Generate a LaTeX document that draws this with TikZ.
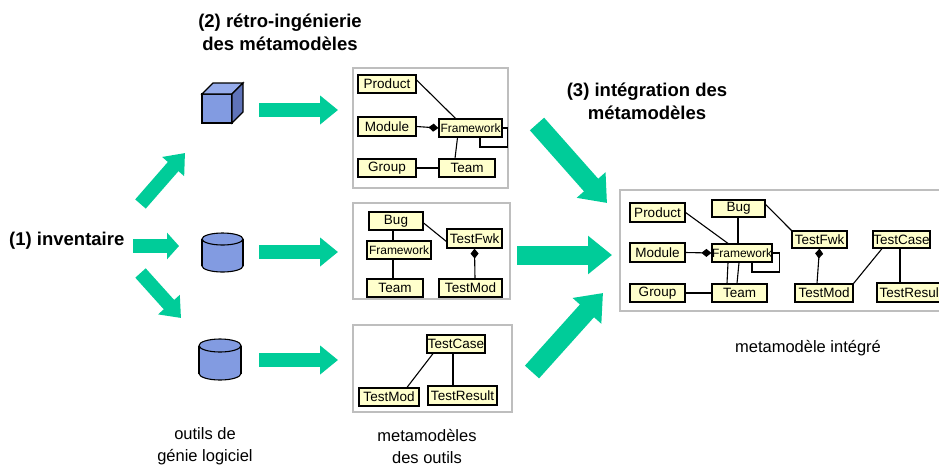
\documentclass[tikz,border=0pt]{standalone}
\usepackage{fontspec}
\setmainfont{Liberation Sans}
\usetikzlibrary{arrows.meta}
\definecolor{grn}{RGB}{0,204,153}
\definecolor{clsfill}{RGB}{255,255,204}
\definecolor{boxgray}{RGB}{190,190,190}
\definecolor{dbfront}{RGB}{130,155,225}
\definecolor{dbtop}{RGB}{150,172,235}
\definecolor{dbside}{RGB}{95,115,185}
\tikzset{
  cls/.style={draw=black, fill=clsfill, line width=1.2pt, inner sep=0pt,
    font=\fontsize{13.5}{15}\selectfont},
  fw/.style={font=\fontsize{12}{13}\selectfont},
  container/.style={draw=boxgray, fill=white, line width=1.5pt, inner sep=0pt},
  conn/.style={draw=black, line width=1.1pt},
  agg/.style={conn, -{Diamond[length=10pt,width=8pt]}},
  garrow/.style={draw=grn, line width=14pt, -{Triangle[width=28pt,length=18pt]}},
  garrowshort/.style={draw=grn, line width=14pt, -{Triangle[width=26pt,length=12pt]}},
  bigarrow/.style={draw=grn, line width=19pt, -{Triangle[width=37pt,length=24pt]}},
  lbl/.style={font=\fontsize{16.5}{22}\selectfont, align=center, inner sep=0pt},
  blbl/.style={font=\bfseries\fontsize{18.5}{22.5}\selectfont, align=center, inner sep=0pt},
  db/.style={draw=black, line width=1.1pt, fill=dbfront},
}
\begin{document}
\begin{tikzpicture}[x=1pt,y=-1pt]
\clip (0,0) rectangle (939,467);
\fill[white] (0,0) rectangle (939,467);

% titles and labels
\node[blbl] (t2) at (280,32.5) {(2) rétro-ingénierie\\des métamodèles};
\node[blbl] (t3) at (647,101.5) {(3) intégration des\\métamodèles};
\node[blbl, anchor=west] (t1) at (9,241) {(1) inventaire};
\node[lbl] (lo) at (205,446) {outils de\\génie logiciel};
\node[lbl] (lm) at (427,446) {metamodèles\\des outils};
\node[lbl] (li) at (808,348) {metamodèle intégré};

% tools: cube
\node[inner sep=0pt, minimum width=41pt, minimum height=40pt] (cube) at (222.5,103) {};
\filldraw[db] (202,94) rectangle (232,123);
\filldraw[db, fill=dbtop] (202,94) -- (213,83) -- (243,83) -- (232,94) -- cycle;
\filldraw[db, fill=dbside] (232,94) -- (243,83) -- (243,112) -- (232,123) -- cycle;

% cylinder 1
\node[inner sep=0pt, minimum width=41pt, minimum height=39pt] (cyl1) at (222.5,252.5) {};
\filldraw[db] (222.5,266) ellipse[x radius=20.5, y radius=6];
\fill[dbfront] (202,239) rectangle (243,266);
\draw[line width=1.1pt] (202,239) -- (202,266) (243,239) -- (243,266);
\filldraw[db] (222.5,239) ellipse[x radius=20.5, y radius=6];

% cylinder 2
\node[inner sep=0pt, minimum width=42pt, minimum height=41pt] (cyl2) at (220,359.5) {};
\filldraw[db] (220,373.5) ellipse[x radius=21, y radius=6.5];
\fill[dbfront] (199,345.5) rectangle (241,373.5);
\draw[line width=1.1pt] (199,345.5) -- (199,373.5) (241,345.5) -- (241,373.5);
\filldraw[db] (220,345.5) ellipse[x radius=21, y radius=6.5];

% arrow end points
\coordinate (a1s) at (140.5,204);
\coordinate (a1e) at (185,153);
\coordinate (a2s) at (133,246);
\coordinate (a2e) at (179,246);
\coordinate (a3s) at (140.5,273);
\coordinate (a3e) at (181,318);
\coordinate (r1s) at (259,110);
\coordinate (r1e) at (338,110);
\coordinate (r2s) at (259,252);
\coordinate (r2e) at (338,252);
\coordinate (r3s) at (259,360);
\coordinate (r3e) at (338,360);
\coordinate (b1s) at (537,124);
\coordinate (b1e) at (607,203);
\coordinate (b2s) at (517,255);
\coordinate (b2e) at (612,255);
\coordinate (b3s) at (532,372);
\coordinate (b3e) at (603,293);

\draw[garrow] (a1s) -- (a1e);
\draw[garrowshort] (a2s) -- (a2e);
\draw[garrow] (a3s) -- (a3e);
\draw[garrow] (r1s) -- (r1e);
\draw[garrow] (r2s) -- (r2e);
\draw[garrow] (r3s) -- (r3e);
\draw[bigarrow] (b1s) -- (b1e);
\draw[bigarrow] (b2s) -- (b2e);
\draw[bigarrow] (b3s) -- (b3e);

% containers
\node[container, minimum width=155pt, minimum height=120pt] (mm1) at (430.5,128) {};
\node[container, minimum width=157pt, minimum height=96pt] (mm2) at (431.5,251) {};
\node[container, minimum width=159pt, minimum height=87pt] (mm3) at (432.5,368.5) {};
\node[container, minimum width=340pt, minimum height=121pt] (mmi) at (790,250.5) {};

% metamodel 1
\node[cls, minimum width=58pt, minimum height=18pt] (p1) at (387,84) {Product};
\node[cls, minimum width=58pt, minimum height=19pt] (m1) at (387,126.5) {Module};
\node[cls, fw, minimum width=63pt, minimum height=18pt] (f1) at (470.5,128) {Framework};
\node[cls, minimum width=58pt, minimum height=18pt] (g1) at (387,168) {Group};
\node[cls, minimum width=56pt, minimum height=18pt] (t1b) at (467,168) {Team};
\draw[conn] ([yshift=4]p1.east) -- ([xshift=-15]f1.north);
\draw[agg] (m1.east) -- (f1.west);
\draw[conn] ([xshift=-13]f1.south) -- ([xshift=-12]t1b.north);
\draw[conn] (g1.east) -- (t1b.west);
\draw[conn] (f1.east) -| ++(5,19) -| ([xshift=9.5]f1.south);

% metamodel 2
\node[cls, minimum width=54pt, minimum height=18pt] (b2) at (396,221) {Bug};
\node[cls, fw, minimum width=64pt, minimum height=18pt] (f2) at (399,250) {Framework};
\node[cls, minimum width=56pt, minimum height=18pt] (t2b) at (395,288) {Team};
\node[cls, minimum width=55pt, minimum height=19pt] (tf2) at (474.5,238.5) {TestFwk};
\node[cls, minimum width=63pt, minimum height=18pt] (tm2) at (470.5,288) {TestMod};
\draw[conn] ([yshift=-2]b2.east) -- ([yshift=-3]tf2.west);
\draw[conn] ([xshift=-3]b2.south) -- ([xshift=-6]f2.north);
\draw[conn] ([xshift=-6]f2.south) -- ([xshift=-2]t2b.north);
\draw[agg] ([xshift=4.5]tm2.north) -- (tf2.south);

% metamodel 3
\node[cls, minimum width=58pt, minimum height=18pt] (tc3) at (456,344) {TestCase};
\node[cls, minimum width=60pt, minimum height=18pt] (tm3) at (389,397) {TestMod};
\node[cls, minimum width=69pt, minimum height=19pt] (tr3) at (462.5,395.5) {TestResult};
\draw[conn] ([xshift=-23]tc3.south) -- ([xshift=18]tm3.north);
\draw[conn] ([xshift=-3]tc3.south) -- ([xshift=-9.5]tr3.north);

% integrated metamodel
\node[cls, minimum width=55pt, minimum height=19pt] (pB) at (657.5,212.5) {Product};
\node[cls, minimum width=53pt, minimum height=17pt] (bB) at (738.5,208.5) {Bug};
\node[cls, minimum width=55pt, minimum height=19pt] (mB) at (657.5,252.5) {Module};
\node[cls, fw, minimum width=60pt, minimum height=18pt] (fB) at (742,253) {Framework};
\node[cls, minimum width=55pt, minimum height=18pt] (gB) at (657.5,293) {Group};
\node[cls, minimum width=55pt, minimum height=18pt] (tB) at (739.5,293) {Team};
\node[cls, minimum width=55pt, minimum height=17pt] (tfB) at (819.5,239.5) {TestFwk};
\node[cls, minimum width=58pt, minimum height=18pt] (tmB) at (824,293) {TestMod};
\node[cls, minimum width=57pt, minimum height=17pt] (tcB) at (901.5,239.5) {TestCase};
\node[cls, minimum width=68pt, minimum height=19pt] (trB) at (911,292.5) {TestResult};
\draw[conn] (pB.east) -- ([xshift=-14]fB.north);
\draw[conn] ([xshift=-0.5]bB.south) -- ([xshift=-4]fB.north);
\draw[conn] ([yshift=4]bB.east) -- (tfB.north west);
\draw[agg] (mB.east) -- (fB.west);
\draw[conn] ([xshift=-14]fB.south) -- ([xshift=-12.5]tB.north);
\draw[conn] ([xshift=-3]fB.south) -- ([xshift=-2.5]tB.north);
\draw[conn] (gB.east) -- (tB.west);
\draw[conn] (fB.east) -| ++(7,19) -| ([xshift=10]fB.south);
\draw[agg] ([xshift=-7]tmB.north) -- (tfB.south);
\draw[conn] (tmB.north east) -- ([xshift=-19.5]tcB.south);
\draw[conn] ([xshift=-1.5]tcB.south) -- ([xshift=-11]trB.north);
\end{tikzpicture}
\end{document}
